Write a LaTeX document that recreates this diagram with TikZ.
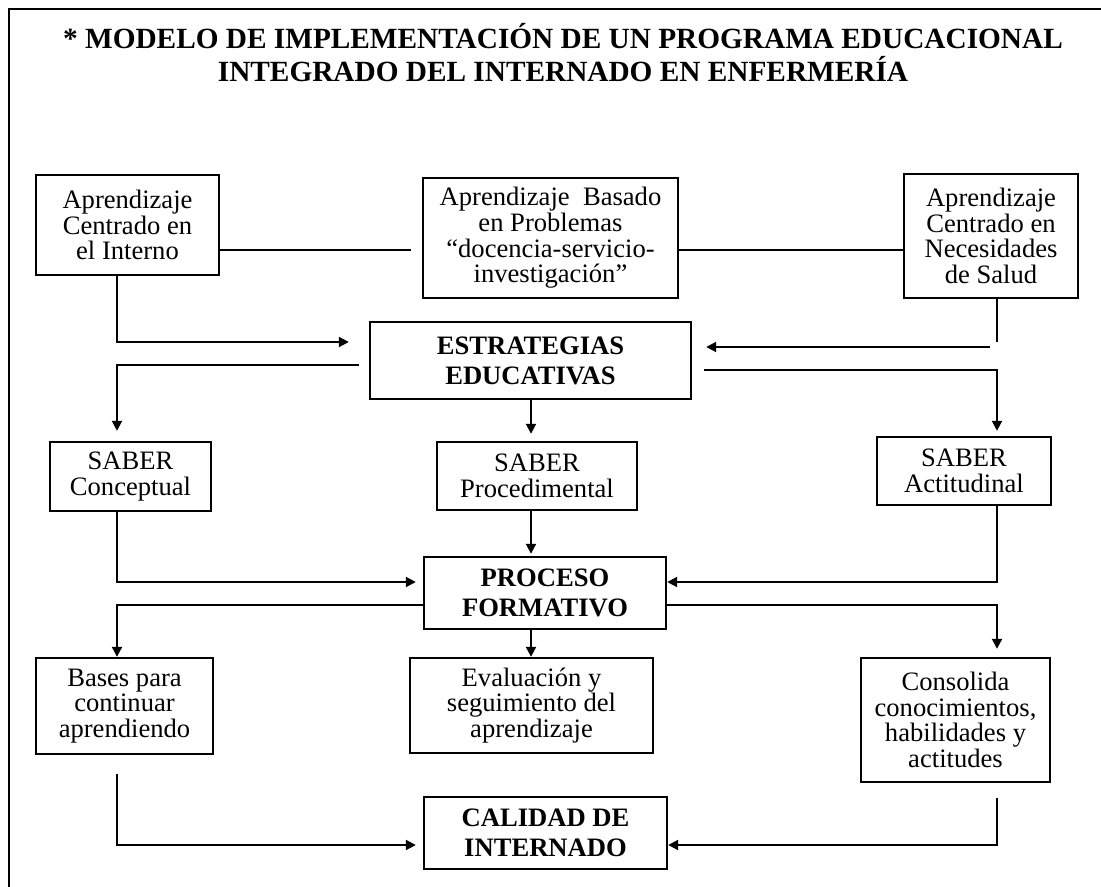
\documentclass[tikz,border=0pt]{standalone}
\usepackage{fontspec}
\setmainfont{Liberation Serif}
\usetikzlibrary{arrows.meta}
\newcommand\mybox[7]{\node[#6, minimum width={(#4-#2)*0.5pt}, minimum height={(#5-#3)*0.5pt}] (#1) at ({(#2+#4)/2},{(#3+#5)/2}) {#7};}
\begin{document}
\begin{tikzpicture}[x=0.5pt,y=-0.5pt,
  box/.style={draw, line width=1.2pt, align=center, inner sep=0pt, font=\fontsize{13.3}{12.85}\selectfont},
  boldbox/.style={box, font=\fontsize{13.3}{15}\selectfont\bfseries},
  ln/.style={line width=1pt},
  arr/.style={ln, -{Triangle[length=5pt,width=5pt]}},
  frameline/.style={line width=0.8pt},
  ttl/.style={font=\fontsize{14.65}{16.5}\selectfont\bfseries, inner sep=0pt, anchor=base}]
\useasboundingbox (0,0) rectangle (1101,887);
\draw[frameline] (9,887) -- (9,9) -- (1101,9);

\node[ttl] (t1) at (563,49) {* MODELO DE IMPLEMENTACIÓN DE UN PROGRAMA EDUCACIONAL};
\node[ttl] (t2) at (563,82) {INTEGRADO DEL INTERNADO EN ENFERMERÍA};

\mybox{A1}{36}{175}{219}{275}{box}{Aprendizaje\\Centrado en\\el Interno}
\mybox{A2}{423}{178}{678}{298}{box}{Aprendizaje~ Basado\\en Problemas\\“docencia-servicio-\\investigación”}
\mybox{A3}{904}{174}{1078}{298}{box}{Aprendizaje\\Centrado en\\Necesidades\\de Salud}
\mybox{E}{370}{322}{691}{399}{boldbox}{ESTRATEGIAS\\EDUCATIVAS}
\mybox{SC}{50}{442}{211}{511}{box}{SABER\\Conceptual}
\mybox{SP}{437}{442}{637}{510}{box}{SABER\\Procedimental}
\mybox{SA}{877}{437}{1051}{505}{box}{SABER\\Actitudinal}
\mybox{P}{424}{557}{666}{629}{boldbox}{PROCESO\\FORMATIVO}
\mybox{B1}{36}{658}{213}{754}{box}{Bases para\\continuar\\aprendiendo}
\mybox{B2}{410}{658}{653}{753}{box}{Evaluación y\\seguimiento del\\aprendizaje}
\mybox{B3}{861}{658}{1050}{782}{box}{Consolida\\conocimientos,\\habilidades y\\actitudes}
\mybox{C}{424}{797}{667}{869}{boldbox}{CALIDAD DE\\INTERNADO}

\coordinate (k13) at (0,250);
\coordinate (k1) at (117,342);
\coordinate (k2) at (997,342);
\coordinate (k3) at (990,347);
\coordinate (k4) at (117,365);
\coordinate (k5) at (531,0);
\coordinate (k6) at (997,370);
\coordinate (k7) at (117,582);
\coordinate (k8) at (997,582);
\coordinate (k9) at (117,605);
\coordinate (k10) at (997,605);
\coordinate (k11) at (117,845);
\coordinate (k12) at (997,845);

\draw[ln] (A1.east |- k13) -- ([xshift=-5.5pt]A2.west |- k13);
\draw[ln] (A2.east |- k13) -- (A3.west |- k13);

\draw[arr] (A1.south -| k1) -- (k1) -- ([xshift=-10pt]E.west |- k1);
\draw[ln] (A3.south -| k2) -- (k2);
\draw[arr] (k3) -- ([xshift=7pt]E.east |- k3);

\draw[arr] ([xshift=-5pt]E.west |- k4) -| ([yshift=5pt]SC.north -| k4);
\draw[arr] (E.south -| k5) -- ([yshift=3.5pt]SP.north -| k5);
\draw[arr] ([xshift=6pt]E.east |- k6) -| ([yshift=2.5pt]SA.north -| k6);

\draw[arr] (SC.south -| k7) |- ([xshift=-3.5pt]P.west |- k7);
\draw[arr] (SP.south -| k5) -- ([yshift=1pt]P.north -| k5);
\draw[arr] (SA.south -| k8) |- (P.east |- k8);

\draw[arr] (P.west |- k9) -| (B1.north -| k9);
\draw[arr] (P.south -| k5) -- (B2.north -| k5);
\draw[arr] (P.east |- k10) -| ([yshift=4pt]B3.north -| k10);

\draw[arr] ([yshift=-9.5pt]B1.south -| k11) |- ([xshift=-3.5pt]C.west |- k11);
\draw[arr] ([yshift=-7.5pt]B3.south -| k12) |- (C.east |- k12);
\end{tikzpicture}
\end{document}
